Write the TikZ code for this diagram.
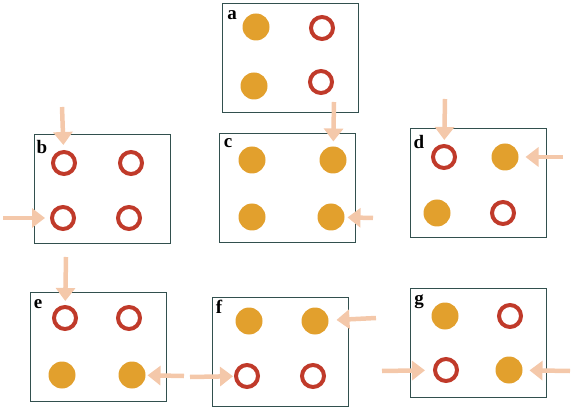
\documentclass[tikz,border=0pt]{standalone}
\usepackage{fontspec}
\setmainfont{Liberation Serif}
\usetikzlibrary{arrows.meta}
\definecolor{boxline}{RGB}{50,80,78}
\definecolor{dotfill}{RGB}{226,160,45}
\definecolor{ringred}{RGB}{192,58,42}
\definecolor{peach}{RGB}{244,200,170}
\begin{document}
\begin{tikzpicture}[x=1pt,y=-1pt,
  panel/.style={draw=boxline, line width=1pt, minimum width=136pt, minimum height=109pt, inner sep=0pt},
  fdot/.style={circle, fill=dotfill, minimum size=27pt, inner sep=0pt, outer sep=0pt},
  ring/.style={circle, draw=ringred, line width=4pt, minimum size=22pt, inner sep=0pt},
  lbl/.style={font=\bfseries\fontsize{19}{19}\selectfont, inner sep=0pt},
  arr/.style={draw=peach, line width=4.5pt, -{Triangle[length=13pt,width=19pt]}, shorten >=#1},
  arr/.default=4pt]
\useasboundingbox (0,0) rectangle (572,411);
% panels
\node[panel] (A) at (290.5,58) {};
\node[panel] (B) at (102.5,189.5) {};
\node[panel] (C) at (287,188.5) {};
\node[panel] (D) at (478,183) {};
\node[panel] (E) at (98.5,347) {};
\node[panel] (F) at (280.5,352) {};
\node[panel] (G) at (478,343) {};
% labels
\node[lbl] (la) at (232,15) {a};
\node[lbl] (lb) at (42,147) {b};
\node[lbl] (lc) at (228,143) {c};
\node[lbl] (ld) at (419,142) {d};
\node[lbl] (le) at (38,304) {e};
\node[lbl] (lf) at (219,307) {f};
\node[lbl] (lg) at (419,302) {g};
% a
\node[fdot] (a1) at (256,27) {};
\node[ring] (a2) at (322,28) {};
\node[fdot] (a3) at (254,86) {};
\node[ring] (a4) at (321,82) {};
% b
\node[ring] (b1) at (64,163) {};
\node[ring] (b2) at (131,163) {};
\node[ring] (b3) at (63,218) {};
\node[ring] (b4) at (129,218) {};
% c
\node[fdot] (c1) at (252,160) {};
\node[fdot] (c2) at (333,160) {};
\node[fdot] (c3) at (252,217) {};
\node[fdot] (c4) at (331,217) {};
% d
\node[ring] (d1) at (444,157) {};
\node[fdot] (d2) at (505,157) {};
\node[fdot] (d3) at (437,213) {};
\node[ring] (d4) at (503,213) {};
% e
\node[ring] (e1) at (65,318) {};
\node[ring] (e2) at (129,318) {};
\node[fdot] (e3) at (62,375) {};
\node[fdot] (e4) at (132,375) {};
% f
\node[fdot] (f1) at (249,321) {};
\node[fdot] (f2) at (315,321) {};
\node[ring] (f3) at (247,376) {};
\node[ring] (f4) at (313,376) {};
% g
\node[fdot] (g1) at (445,316) {};
\node[ring] (g2) at (510,316) {};
\node[ring] (g3) at (446,370) {};
\node[fdot] (g4) at (509,370) {};
% arrow tails
\coordinate (tb1) at (62,107);
\coordinate (tb3) at (3,218);
\coordinate (tc2) at (334,102);
\coordinate (tc4) at (373,218);
\coordinate (td1) at (445,99);
\coordinate (td2) at (563,157);
\coordinate (te1) at (66,257);
\coordinate (te4) at (184,376);
\coordinate (tf2) at (376,318);
\coordinate (tf3) at (190,377);
\coordinate (tg3) at (382,371);
\coordinate (tg4) at (570,371);
% arrows
\draw[arr=5pt] (tb1) -- (b1);
\draw[arr=5pt] (tb3) -- (b3);
\draw[arr=5pt] (tc2) -- (c2);
\draw[arr=3pt] (tc4) -- (c4);
\draw[arr=4pt] (td1) -- (d1);
\draw[arr=7pt] (td2) -- (d2);
\draw[arr=4pt] (te1) -- (e1);
\draw[arr=2pt] (te4) -- (e4);
\draw[arr=8pt] (tf2) -- (f2);
\draw[arr=1pt] (tf3) -- (f3);
\draw[arr=8pt] (tg3) -- (g3);
\draw[arr=7pt] (tg4) -- (g4);
\end{tikzpicture}
\end{document}
